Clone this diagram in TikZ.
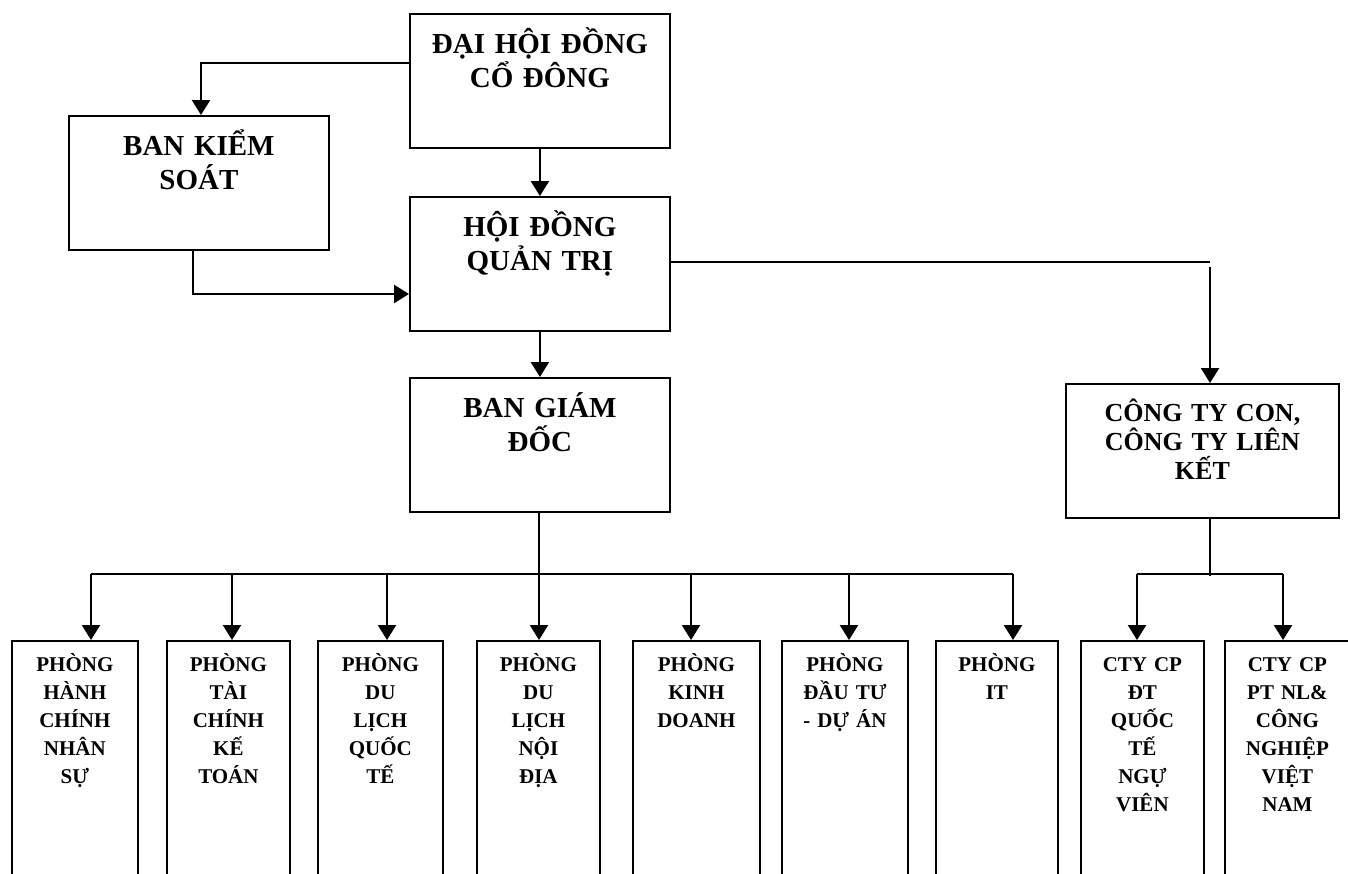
\documentclass[tikz,border=0pt]{standalone}
\usepackage{fontspec}
\setmainfont{Liberation Serif}
\usetikzlibrary{arrows.meta,calc}
\definecolor{BoxClr}{rgb}{0,0,0}
\definecolor{LinkClr}{rgb}{0,0,0}

\tikzset{
  box/.style={draw=BoxClr,line width=0.9pt,inner sep=0pt,align=center,anchor=north west},
  bigbox/.style={box,text width=130pt,text height=20pt,text depth=47pt,
    font=\bfseries\fontsize{14.5}{17}\selectfont},
  ctybox/.style={box,text width=136.5pt,text height=18.75pt,text depth=48.25pt,
    font=\bfseries\fontsize{13}{14.5}\selectfont},
  deptbox/.style={box,text width=62pt,text height=15.5pt,text depth=140pt,
    font=\bfseries\fontsize{10.5}{14}\selectfont},
  arr/.style={draw=LinkClr,line width=1.2pt,-{Triangle[width=9pt,length=7.5pt]}},
  link/.style={draw=LinkClr,line width=0.8pt}
}

\begin{document}
\begin{tikzpicture}[x=0.5pt,y=-0.5pt]
\useasboundingbox (0,0) rectangle (1348,873);
\clip (0,0) rectangle (1348,873);

\node[bigbox] (dhcd) at (409,13) {ĐẠI HỘI ĐỒNG\\CỔ ĐÔNG};
\node[bigbox] (bks) at (68,115) {BAN KIỂM\\SOÁT};
\node[bigbox] (hdqt) at (409,196) {HỘI ĐỒNG\\QUẢN TRỊ};
\node[bigbox] (bgd) at (409,377) {BAN GIÁM\\ĐỐC};
\node[ctybox] (ctylk) at (1065,383) {CÔNG TY CON,\\CÔNG TY LIÊN\\KẾT};

\node[deptbox,text width=63pt] (p1) at (11,640) {PHÒNG\\HÀNH\\CHÍNH\\NHÂN\\SỰ};
\node[deptbox,text width=61.5pt] (p2) at (166,640) {PHÒNG\\TÀI\\CHÍNH\\KẾ\\TOÁN};
\node[deptbox,text width=62.5pt] (p3) at (317,640) {PHÒNG\\DU\\LỊCH\\QUỐC\\TẾ};
\node[deptbox,text width=61.5pt] (p4) at (476,640) {PHÒNG\\DU\\LỊCH\\NỘI\\ĐỊA};
\node[deptbox,text width=63.5pt] (p5) at (632,640) {PHÒNG\\KINH\\DOANH};
\node[deptbox,text width=63pt] (p6) at (781,640) {PHÒNG\\ĐẦU TƯ\\- DỰ ÁN};
\node[deptbox,text width=61pt] (p7) at (935,640) {PHÒNG\\IT};
\node[deptbox,text width=61.5pt] (ct1) at (1080,640) {CTY CP\\ĐT\\QUỐC\\TẾ\\NGỰ\\VIÊN};
\node[deptbox,text width=62.5pt] (ct2) at (1224,640) {CTY CP\\PT NL\&\\CÔNG\\NGHIỆP\\VIỆT\\NAM};

\coordinate (k1) at (201,63);
\coordinate (k2) at (193,294);
\coordinate (k3) at (1210,262);
\coordinate (k4) at (1210,267);
\coordinate (busC) at (539,574);
\coordinate (a1) at (91,574);
\coordinate (a2) at (232,574);
\coordinate (a3) at (387,574);
\coordinate (a4) at (539,574);
\coordinate (a5) at (691,574);
\coordinate (a6) at (849,574);
\coordinate (a7) at (1013,574);
\coordinate (busK) at (1210,576);
\coordinate (b1) at (1137,574);
\coordinate (b2) at (1283,574);

\draw[arr] (dhcd.west |- k1) -- (k1) -- (bks.north -| k1);
\draw[arr] (dhcd.south) -- (hdqt.north);
\draw[arr] (bks.south -| k2) -- (k2) -- (hdqt.west |- k2);
\draw[link] (hdqt.east |- k3) -- (k3);
\draw[arr] (k4) -- (ctylk.north -| k4);
\draw[arr] (hdqt.south) -- (bgd.north);

\draw[link] (bgd.south -| busC) -- (busC);
\draw[link] (a1) -- (a7);
\draw[arr] (a1) -- (p1.north -| a1);
\draw[arr] (a2) -- (p2.north -| a2);
\draw[arr] (a3) -- (p3.north -| a3);
\draw[arr] (a4) -- (p4.north -| a4);
\draw[arr] (a5) -- (p5.north -| a5);
\draw[arr] (a6) -- (p6.north -| a6);
\draw[arr] (a7) -- (p7.north -| a7);

\draw[link] (ctylk.south -| busK) -- (busK);
\draw[link] (b1) -- (b2);
\draw[arr] (b1) -- (ct1.north -| b1);
\draw[arr] (b2) -- (ct2.north -| b2);

\end{tikzpicture}
\end{document}
